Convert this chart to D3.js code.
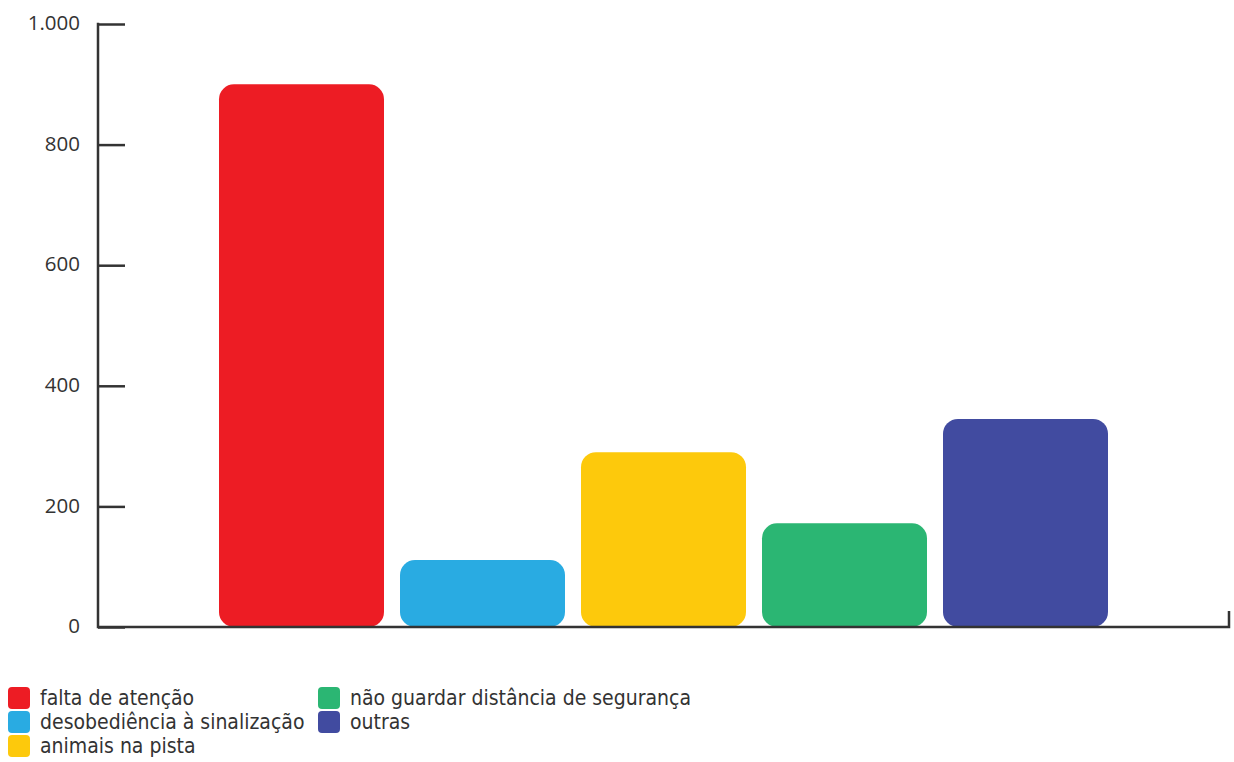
<!DOCTYPE html>
<html><head><meta charset="utf-8">
<script src="https://cdn.jsdelivr.net/npm/d3@7"></script>
<style>body{margin:0;background:#fff}</style>
</head><body>
<svg id="c" width="1234" height="762"></svg>
<script>
const categories = ["falta de atenção","desobediência à sinalização","animais na pista","não guardar distância de segurança","outras"];
const values = [900, 111, 290, 172, 345];
const colors = ["#ED1C24","#29ABE2","#FDC90C","#2BB673","#414BA0"];
const yTicks = [0,200,400,600,800,1000];
const yTickLabels = ["0","200","400","600","800","1.000"];

const svg = d3.select("#c");
const y = d3.scaleLinear().domain([0,1000]).range([627,24]);
const x = d3.scaleBand().domain(categories).range([211,1116]).paddingInner(16/181).paddingOuter(8/181);

const tickFont = "'Open Sans', sans-serif";
const legFont = "'DejaVu Sans Condensed', 'DejaVu Sans', sans-serif";

// bars
svg.append("g").selectAll("rect").data(values).join("rect")
  .attr("x",(d,i)=>x(categories[i]))
  .attr("y",d=>y(d))
  .attr("width",x.bandwidth())
  .attr("height",d=>y(0)-y(d))
  .attr("rx",15).attr("ry",15)
  .attr("fill",(d,i)=>colors[i]);

// y axis
const yAxis = d3.axisRight(y).tickValues(yTicks).tickSize(27).tickFormat("");
const ga = svg.append("g").attr("transform","translate(98,0)").call(yAxis);
ga.select(".domain").remove();
ga.selectAll(".tick line").attr("stroke","#333").attr("stroke-width",2.5);
svg.append("line").attr("x1",98).attr("x2",98).attr("y1",y(1000)-1.2).attr("y2",y(0)+1.2)
  .attr("stroke","#333").attr("stroke-width",2.5);
svg.append("g").selectAll("text").data(yTicks).join("text")
  .attr("x",80).attr("y",d=>y(d)).attr("dy",d=>d===0?"0.28em":"0.3em")
  .attr("text-anchor","end").attr("font-family",tickFont).attr("font-size",20.5)
  .attr("fill","#333").text((d,i)=>yTickLabels[i]);

// x axis
svg.append("path").attr("d",`M98,${y(0)}H1229V${y(0)-16}`)
  .attr("fill","none").attr("stroke","#333").attr("stroke-width",2.5);

// legend
const legPos = [[8,698],[8,722],[8,746],[318,698],[318,722]];
const lg = svg.append("g").selectAll("g").data(categories).join("g")
  .attr("transform",(d,i)=>`translate(${legPos[i][0]},${legPos[i][1]})`);
lg.append("rect").attr("x",0).attr("y",-11).attr("width",22).attr("height",22).attr("rx",4)
  .attr("fill",(d,i)=>colors[i]);
lg.append("text").attr("x",32).attr("y",0).attr("dy","0.35em")
  .attr("font-family",legFont).attr("font-size",21).attr("fill","#333").text(d=>d);
</script>
</body></html>
